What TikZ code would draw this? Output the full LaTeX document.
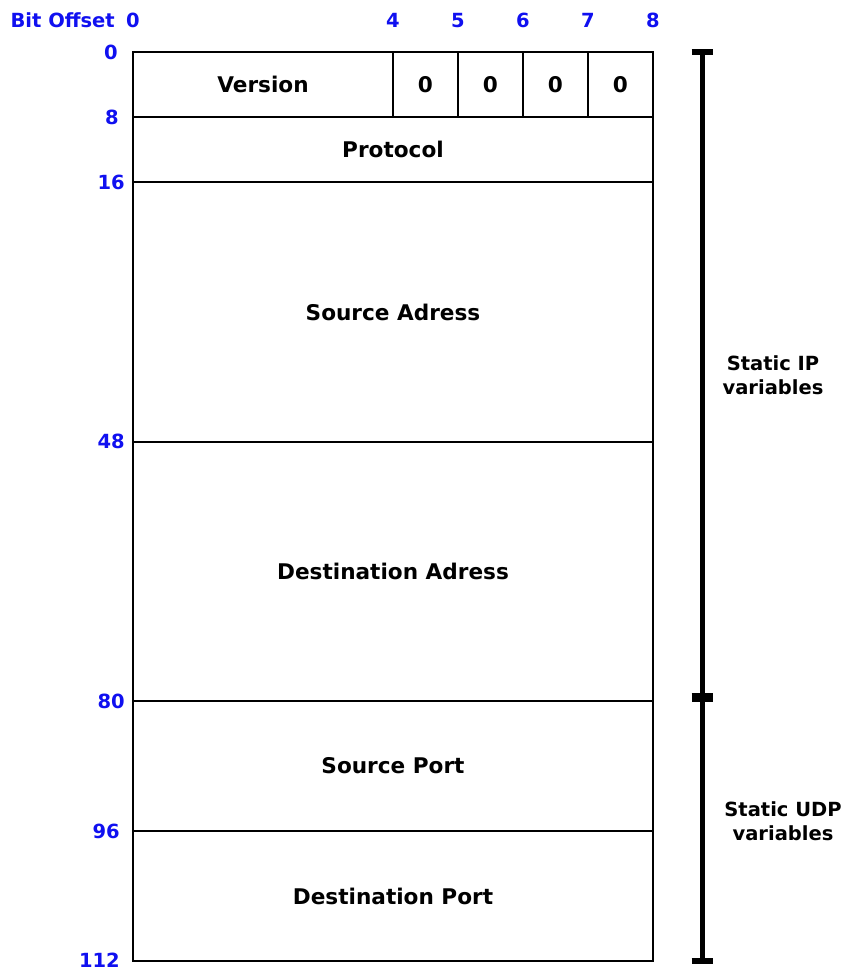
\documentclass[tikz,border=0pt]{standalone}
\usepackage{fontspec}
\setmainfont{DejaVu Sans}
\definecolor{offsetblue}{RGB}{16,16,240}
\begin{document}
\begin{tikzpicture}[x=1pt,y=-1pt,
  every node/.style={font=\fontsize{19.5}{23.5}\selectfont\bfseries},
  cell/.style={draw=black, line width=2pt, rectangle, inner sep=0pt, minimum width=520pt,
    font=\fontsize{21.6}{26}\selectfont\bfseries},
  offs/.style={text=offsetblue, inner sep=0pt},
  side/.style={align=center, inner sep=0pt},
  bracketline/.style={line width=5pt},
  tickmark/.style={line width=6pt}]
\useasboundingbox (0,0) rectangle (846,972);

% header fields (row boundaries at 52, 117, 182, 442, 701, 831, 961)
\node[cell, minimum width=260pt, minimum height=65pt] (version) at (263,84.5) {Version};
\node[cell, minimum width=65pt, minimum height=65pt] (b4) at (425.5,84.5) {0};
\node[cell, minimum width=65pt, minimum height=65pt] (b5) at (490.5,84.5) {0};
\node[cell, minimum width=65pt, minimum height=65pt] (b6) at (555.5,84.5) {0};
\node[cell, minimum width=65pt, minimum height=65pt] (b7) at (620.5,84.5) {0};
\node[cell, minimum height=65pt] (proto) at (393,149.5) {Protocol};
\node[cell, minimum height=260pt] (src) at (393,312) {Source Adress};
\node[cell, minimum height=259pt] (dst) at (393,571.5) {Destination Adress};
\node[cell, minimum height=130pt] (sport) at (393,766) {Source Port};
\node[cell, minimum height=130pt] (dport) at (393,896) {Destination Port};

% bit offsets along the top, all on one baseline
\node[offs, anchor=base east] (bitlbl) at (115,27) {Bit Offset};
\node[offs, anchor=base] (t0) at (133,27) {0};
\node[offs, anchor=base] (t4) at (393,27) {4};
\node[offs, anchor=base] (t5) at (458,27) {5};
\node[offs, anchor=base] (t6) at (523,27) {6};
\node[offs, anchor=base] (t7) at (588,27) {7};
\node[offs, anchor=base] (t8) at (653,27) {8};

% byte offsets down the left side
\node[offs, anchor=base east] (l0) at (118,59) {0};
\node[offs, anchor=base east] (l8) at (119,124) {8};
\node[offs, anchor=base east] (l16) at (125,189) {16};
\node[offs, anchor=base east] (l48) at (125,448) {48};
\node[offs, anchor=base east] (l80) at (125,708) {80};
\node[offs, anchor=base east] (l96) at (120,838) {96};
\node[offs, anchor=base east] (l112) at (120,967) {112};

% grouping bracket
\coordinate (gtop) at (702,52);
\coordinate (gmid) at (702,697.5);
\coordinate (gbot) at (702,961);
\draw[bracketline] (gtop) -- (gbot);
\draw[tickmark] ([xshift=-10.5pt]gtop) -- ([xshift=10.5pt]gtop);
\draw[line width=9pt] ([xshift=-10.5pt]gmid) -- ([xshift=10.5pt]gmid);
\draw[tickmark] ([xshift=-10.5pt]gbot) -- ([xshift=10.5pt]gbot);

\node[side] (iplbl) at (773,375) {Static IP\\variables};
\node[side] (udplbl) at (783,821) {Static UDP\\variables};
\end{tikzpicture}
\end{document}
